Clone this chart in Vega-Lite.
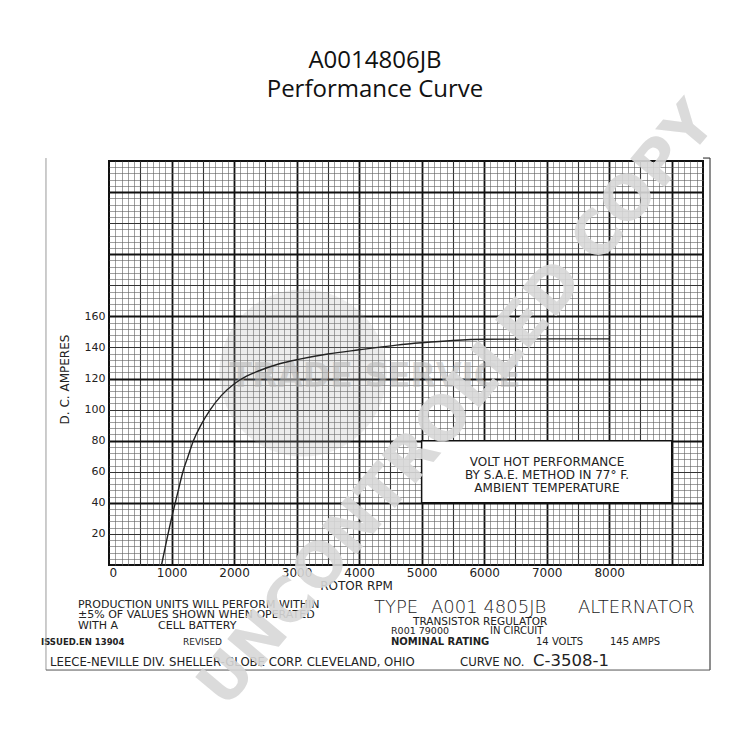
{
  "$schema": "https://vega.github.io/schema/vega-lite/v6.json",
  "width": 594,
  "height": 404,
  "autosize": {"type": "none"},
  "padding": {"left": 109, "top": 161, "right": 47, "bottom": 185},
  "background": "white",
  "title": {"text": ["A0014806JB", "Performance Curve"], "font": "Open Sans", "fontSize": 24, "fontWeight": "normal", "color": "#111", "lineHeight": 29, "anchor": "middle", "offset": -10, "dx": -31},
  "config": {"view": {"stroke": "#111", "strokeWidth": 2}, "text": {"font": "DejaVu Sans", "color": "#222"}},
  "resolve": {"axis": {"x": "independent", "y": "independent"}},
  "data": {"values": [{}]},
  "layer": [
    {
      "mark": {"type": "point", "filled": true, "color": "#a8a8a8", "opacity": 0.22, "size": 28000},
      "encoding": {
        "x": {"datum": 3103, "type": "quantitative", "scale": {"domain": [0, 9500], "nice": false, "zero": false},
          "axis": {"orient": "bottom", "grid": true, "labels": false, "ticks": false, "domain": false, "title": null, "gridColor": "#5e5e5e", "gridWidth": 0.6,
            "values": [100,200,300,400,500,600,700,800,900,1000,1100,1200,1300,1400,1500,1600,1700,1800,1900,2000,2100,2200,2300,2400,2500,2600,2700,2800,2900,3000,3100,3200,3300,3400,3500,3600,3700,3800,3900,4000,4100,4200,4300,4400,4500,4600,4700,4800,4900,5000,5100,5200,5300,5400,5500,5600,5700,5800,5900,6000,6100,6200,6300,6400,6500,6600,6700,6800,6900,7000,7100,7200,7300,7400,7500,7600,7700,7800,7900,8000,8100,8200,8300,8400,8500,8600,8700,8800,8900,9000,9100,9200,9300,9400]}},
        "y": {"datum": 123.6, "type": "quantitative", "scale": {"domain": [0, 260], "nice": false, "zero": false},
          "axis": {"orient": "left", "grid": true, "labels": false, "ticks": false, "domain": false, "title": null, "gridColor": "#5e5e5e", "gridWidth": 0.6,
            "values": [4,8,12,16,20,24,28,32,36,40,44,48,52,56,60,64,68,72,76,80,84,88,92,96,100,104,108,112,116,120,124,128,132,136,140,144,148,152,156,160,164,168,172,176,180,184,188,192,196,200,204,208,212,216,220,224,228,232,236,240,244,248,252,256]}}
      }
    },
    {
      "mark": {"type": "text", "text": "TRADE SERVICE", "fontSize": 33, "fontWeight": "bold", "color": "#b5b5b5", "opacity": 0.55, "align": "center", "baseline": "middle"},
      "encoding": {
        "x": {"datum": 4254, "type": "quantitative", "scale": {"domain": [0, 9500], "nice": false, "zero": false},
          "axis": {"orient": "bottom", "grid": true, "labels": false, "ticks": false, "domain": false, "title": null, "gridColor": "#333", "gridWidth": 1.1,
            "values": [500,1500,2500,3500,4500,5500,6500,7500,8500]}},
        "y": {"datum": 121, "type": "quantitative", "scale": {"domain": [0, 260], "nice": false, "zero": false},
          "axis": {"orient": "left", "grid": true, "labels": false, "ticks": false, "domain": false, "title": null, "gridColor": "#333", "gridWidth": 1.1,
            "values": [20,60,100,140,180,220]}}
      }
    },
    {
      "data": {"values": [
        {"rpm": 840, "amps": 0}, {"rpm": 918, "amps": 15}, {"rpm": 1000, "amps": 30}, {"rpm": 1060, "amps": 40},
        {"rpm": 1120, "amps": 50}, {"rpm": 1182, "amps": 60}, {"rpm": 1265, "amps": 70}, {"rpm": 1350, "amps": 80},
        {"rpm": 1470, "amps": 90}, {"rpm": 1620, "amps": 100}, {"rpm": 1795, "amps": 109}, {"rpm": 2000, "amps": 116.5},
        {"rpm": 2200, "amps": 121.5}, {"rpm": 2400, "amps": 125}, {"rpm": 2700, "amps": 129.2}, {"rpm": 3050, "amps": 132.5},
        {"rpm": 3500, "amps": 135.8}, {"rpm": 4000, "amps": 138.5}, {"rpm": 4600, "amps": 141.5}, {"rpm": 5000, "amps": 143},
        {"rpm": 5500, "amps": 144.5}, {"rpm": 6000, "amps": 145.3}, {"rpm": 7000, "amps": 145.5}, {"rpm": 8000, "amps": 145.5}
      ]},
      "mark": {"type": "line", "interpolate": "monotone", "color": "#222", "strokeWidth": 1.4},
      "encoding": {
        "x": {"field": "rpm", "type": "quantitative", "scale": {"domain": [0, 9500], "nice": false, "zero": false},
          "axis": {"orient": "bottom", "grid": true, "labels": false, "ticks": false, "domain": false, "title": null, "gridColor": "#111", "gridWidth": 1.8,
            "values": [1000,2000,3000,4000,5000,6000,7000,8000,9000]}},
        "y": {"field": "amps", "type": "quantitative", "scale": {"domain": [0, 260], "nice": false, "zero": false},
          "axis": {"orient": "left", "grid": true, "labels": false, "ticks": false, "domain": false, "title": null, "gridColor": "#111", "gridWidth": 1.8,
            "values": [40,80,120,160,200,240]}}
      }
    },
    {
      "mark": {"type": "rect", "fill": "white", "stroke": "#111", "strokeWidth": 1.5},
      "encoding": {
        "x": {"datum": 5000, "type": "quantitative", "scale": {"domain": [0, 9500], "nice": false, "zero": false},
          "axis": {"orient": "bottom", "grid": false, "ticks": false, "domain": false, "values": [0,1000,2000,3000,4000,5000,6000,7000,8000], "format": "d",
            "labelFont": "DejaVu Sans", "labelFontSize": 12, "labelColor": "#222", "labelPadding": 2, "labelFlush": true,
            "title": "ROTOR RPM", "titleFont": "DejaVu Sans", "titleFontSize": 12, "titleFontWeight": "normal", "titleColor": "#222",
            "titleX": 247, "titleY": 24, "titleBaseline": "alphabetic", "titleAlign": "center"}},
        "x2": {"datum": 9000},
        "y": {"datum": 40, "type": "quantitative", "scale": {"domain": [0, 260], "nice": false, "zero": false},
          "axis": {"orient": "left", "grid": false, "ticks": false, "domain": false, "values": [20,40,60,80,100,120,140,160],
            "labelFont": "DejaVu Sans", "labelFontSize": 11, "labelColor": "#222", "labelPadding": 4,
            "title": "D. C.  AMPERES", "titleFont": "DejaVu Sans", "titleFontSize": 12, "titleFontWeight": "normal", "titleColor": "#222",
            "titleX": -41, "titleY": 218, "titleBaseline": "alphabetic", "titleAlign": "center", "titleAngle": 270}},
        "y2": {"datum": 80}
      }
    },
    {
      "mark": {"type": "text", "text": ["VOLT HOT PERFORMANCE", "BY S.A.E. METHOD IN 77° F.", "AMBIENT TEMPERATURE"], "fontSize": 12, "lineHeight": 13, "align": "center", "baseline": "middle"},
      "encoding": {
        "x": {"datum": 7005, "type": "quantitative", "scale": {"domain": [0, 9500], "nice": false, "zero": false}, "axis": null},
        "y": {"datum": 66.5, "type": "quantitative", "scale": {"domain": [0, 260], "nice": false, "zero": false}, "axis": null}
      }
    },
    {
      "mark": {"type": "text", "text": "PRODUCTION  UNITS WILL PERFORM WITHIN", "fontSize": 11, "align": "left", "baseline": "alphabetic"},
      "encoding": {
        "x": {"datum": -496, "type": "quantitative", "scale": {"domain": [0, 9500], "nice": false, "zero": false}, "axis": null},
        "y": {"datum": -27.7, "type": "quantitative", "scale": {"domain": [0, 260], "nice": false, "zero": false}, "axis": null}
      }
    },
    {
      "mark": {"type": "text", "text": "±5% OF VALUES SHOWN WHEN OPERATED", "fontSize": 11, "align": "left", "baseline": "alphabetic"},
      "encoding": {
        "x": {"datum": -496, "type": "quantitative", "scale": {"domain": [0, 9500], "nice": false, "zero": false}, "axis": null},
        "y": {"datum": -34.1, "type": "quantitative", "scale": {"domain": [0, 260], "nice": false, "zero": false}, "axis": null}
      }
    },
    {
      "mark": {"type": "text", "text": "WITH A", "fontSize": 11, "align": "left", "baseline": "alphabetic"},
      "encoding": {
        "x": {"datum": -496, "type": "quantitative", "scale": {"domain": [0, 9500], "nice": false, "zero": false}, "axis": null},
        "y": {"datum": -40.9, "type": "quantitative", "scale": {"domain": [0, 260], "nice": false, "zero": false}, "axis": null}
      }
    },
    {
      "mark": {"type": "text", "text": "CELL BATTERY", "fontSize": 11, "align": "left", "baseline": "alphabetic"},
      "encoding": {
        "x": {"datum": 784, "type": "quantitative", "scale": {"domain": [0, 9500], "nice": false, "zero": false}, "axis": null},
        "y": {"datum": -40.9, "type": "quantitative", "scale": {"domain": [0, 260], "nice": false, "zero": false}, "axis": null}
      }
    },
    {
      "mark": {"type": "text", "text": "ISSUED.EN 13904", "fontSize": 8.5, "fontWeight": "bold", "align": "left", "baseline": "alphabetic"},
      "encoding": {
        "x": {"datum": -1088, "type": "quantitative", "scale": {"domain": [0, 9500], "nice": false, "zero": false}, "axis": null},
        "y": {"datum": -51.5, "type": "quantitative", "scale": {"domain": [0, 260], "nice": false, "zero": false}, "axis": null}
      }
    },
    {
      "mark": {"type": "text", "text": "REVISED", "fontSize": 9, "align": "left", "baseline": "alphabetic"},
      "encoding": {
        "x": {"datum": 1183, "type": "quantitative", "scale": {"domain": [0, 9500], "nice": false, "zero": false}, "axis": null},
        "y": {"datum": -51.5, "type": "quantitative", "scale": {"domain": [0, 260], "nice": false, "zero": false}, "axis": null}
      }
    },
    {
      "mark": {"type": "text", "text": "TYPE", "fontSize": 18, "fontWeight": 200, "align": "left", "baseline": "alphabetic"},
      "encoding": {
        "x": {"datum": 4238, "type": "quantitative", "scale": {"domain": [0, 9500], "nice": false, "zero": false}, "axis": null},
        "y": {"datum": -30.9, "type": "quantitative", "scale": {"domain": [0, 260], "nice": false, "zero": false}, "axis": null}
      }
    },
    {
      "mark": {"type": "text", "text": "A001 4805JB", "fontSize": 18, "fontWeight": 200, "align": "left", "baseline": "alphabetic"},
      "encoding": {
        "x": {"datum": 5150, "type": "quantitative", "scale": {"domain": [0, 9500], "nice": false, "zero": false}, "axis": null},
        "y": {"datum": -30.9, "type": "quantitative", "scale": {"domain": [0, 260], "nice": false, "zero": false}, "axis": null}
      }
    },
    {
      "mark": {"type": "text", "text": "ALTERNATOR", "fontSize": 18, "fontWeight": 200, "align": "left", "baseline": "alphabetic"},
      "encoding": {
        "x": {"datum": 7501, "type": "quantitative", "scale": {"domain": [0, 9500], "nice": false, "zero": false}, "axis": null},
        "y": {"datum": -30.9, "type": "quantitative", "scale": {"domain": [0, 260], "nice": false, "zero": false}, "axis": null}
      }
    },
    {
      "mark": {"type": "text", "text": "TRANSISTOR  REGULATOR", "fontSize": 10.5, "align": "left", "baseline": "alphabetic"},
      "encoding": {
        "x": {"datum": 4862, "type": "quantitative", "scale": {"domain": [0, 9500], "nice": false, "zero": false}, "axis": null},
        "y": {"datum": -38.6, "type": "quantitative", "scale": {"domain": [0, 260], "nice": false, "zero": false}, "axis": null}
      }
    },
    {
      "mark": {"type": "text", "text": "R001 79000", "fontSize": 9.5, "align": "left", "baseline": "alphabetic"},
      "encoding": {
        "x": {"datum": 4510, "type": "quantitative", "scale": {"domain": [0, 9500], "nice": false, "zero": false}, "axis": null},
        "y": {"datum": -44.1, "type": "quantitative", "scale": {"domain": [0, 260], "nice": false, "zero": false}, "axis": null}
      }
    },
    {
      "mark": {"type": "text", "text": "IN CIRCUIT", "fontSize": 10, "align": "left", "baseline": "alphabetic"},
      "encoding": {
        "x": {"datum": 6093, "type": "quantitative", "scale": {"domain": [0, 9500], "nice": false, "zero": false}, "axis": null},
        "y": {"datum": -44.1, "type": "quantitative", "scale": {"domain": [0, 260], "nice": false, "zero": false}, "axis": null}
      }
    },
    {
      "mark": {"type": "text", "text": "NOMINAL RATING", "fontSize": 10, "fontWeight": "bold", "align": "left", "baseline": "alphabetic"},
      "encoding": {
        "x": {"datum": 4510, "type": "quantitative", "scale": {"domain": [0, 9500], "nice": false, "zero": false}, "axis": null},
        "y": {"datum": -51.5, "type": "quantitative", "scale": {"domain": [0, 260], "nice": false, "zero": false}, "axis": null}
      }
    },
    {
      "mark": {"type": "text", "text": "14 VOLTS", "fontSize": 10, "align": "left", "baseline": "alphabetic"},
      "encoding": {
        "x": {"datum": 6829, "type": "quantitative", "scale": {"domain": [0, 9500], "nice": false, "zero": false}, "axis": null},
        "y": {"datum": -51.5, "type": "quantitative", "scale": {"domain": [0, 260], "nice": false, "zero": false}, "axis": null}
      }
    },
    {
      "mark": {"type": "text", "text": "145 AMPS", "fontSize": 10, "align": "left", "baseline": "alphabetic"},
      "encoding": {
        "x": {"datum": 8012, "type": "quantitative", "scale": {"domain": [0, 9500], "nice": false, "zero": false}, "axis": null},
        "y": {"datum": -51.5, "type": "quantitative", "scale": {"domain": [0, 260], "nice": false, "zero": false}, "axis": null}
      }
    },
    {
      "mark": {"type": "text", "text": "LEECE-NEVILLE DIV. SHELLER-GLOBE CORP. CLEVELAND, OHIO", "font": "DejaVu Sans Condensed", "fontSize": 13, "align": "left", "baseline": "alphabetic"},
      "encoding": {
        "x": {"datum": -944, "type": "quantitative", "scale": {"domain": [0, 9500], "nice": false, "zero": false}, "axis": null},
        "y": {"datum": -65, "type": "quantitative", "scale": {"domain": [0, 260], "nice": false, "zero": false}, "axis": null}
      }
    },
    {
      "mark": {"type": "text", "text": "CURVE NO.", "font": "DejaVu Sans Condensed", "fontSize": 13, "align": "left", "baseline": "alphabetic"},
      "encoding": {
        "x": {"datum": 5614, "type": "quantitative", "scale": {"domain": [0, 9500], "nice": false, "zero": false}, "axis": null},
        "y": {"datum": -65, "type": "quantitative", "scale": {"domain": [0, 260], "nice": false, "zero": false}, "axis": null}
      }
    },
    {
      "mark": {"type": "text", "text": "C-3508-1", "fontSize": 16.5, "align": "left", "baseline": "alphabetic"},
      "encoding": {
        "x": {"datum": 6781, "type": "quantitative", "scale": {"domain": [0, 9500], "nice": false, "zero": false}, "axis": null},
        "y": {"datum": -65, "type": "quantitative", "scale": {"domain": [0, 260], "nice": false, "zero": false}, "axis": null}
      }
    },
    {
      "mark": {"type": "rule", "color": "#999", "strokeWidth": 1},
      "encoding": {
        "x": {"datum": -1008, "type": "quantitative", "scale": {"domain": [0, 9500], "nice": false, "zero": false}, "axis": null},
        "y": {"datum": -67.6, "type": "quantitative", "scale": {"domain": [0, 260], "nice": false, "zero": false}, "axis": null},
        "y2": {"datum": 261.9}
      }
    },
    {
      "mark": {"type": "rule", "color": "#444", "strokeWidth": 1.2},
      "encoding": {
        "x": {"datum": 9612, "type": "quantitative", "scale": {"domain": [0, 9500], "nice": false, "zero": false}, "axis": null},
        "y": {"datum": -67.6, "type": "quantitative", "scale": {"domain": [0, 260], "nice": false, "zero": false}, "axis": null},
        "y2": {"datum": 261.9}
      }
    },
    {
      "mark": {"type": "rule", "color": "#444", "strokeWidth": 1.2},
      "encoding": {
        "x": {"datum": 9500, "type": "quantitative", "scale": {"domain": [0, 9500], "nice": false, "zero": false}, "axis": null},
        "x2": {"datum": 9612},
        "y": {"datum": 261.9, "type": "quantitative", "scale": {"domain": [0, 260], "nice": false, "zero": false}, "axis": null}
      }
    },
    {
      "mark": {"type": "rule", "color": "#555", "strokeWidth": 1},
      "encoding": {
        "x": {"datum": -1008, "type": "quantitative", "scale": {"domain": [0, 9500], "nice": false, "zero": false}, "axis": null},
        "x2": {"datum": 9612},
        "y": {"datum": -67.6, "type": "quantitative", "scale": {"domain": [0, 260], "nice": false, "zero": false}, "axis": null}
      }
    },
    {
      "mark": {"type": "text", "text": "UNCONTROLLED COPY", "fontSize": 61, "fontWeight": "bold", "color": "#d8d8d8", "opacity": 0.9, "angle": -50, "align": "center", "baseline": "middle"},
      "encoding": {
        "x": {"datum": 5582, "type": "quantitative", "scale": {"domain": [0, 9500], "nice": false, "zero": false}, "axis": null},
        "y": {"datum": 103, "type": "quantitative", "scale": {"domain": [0, 260], "nice": false, "zero": false}, "axis": null}
      }
    }
  ]
}
